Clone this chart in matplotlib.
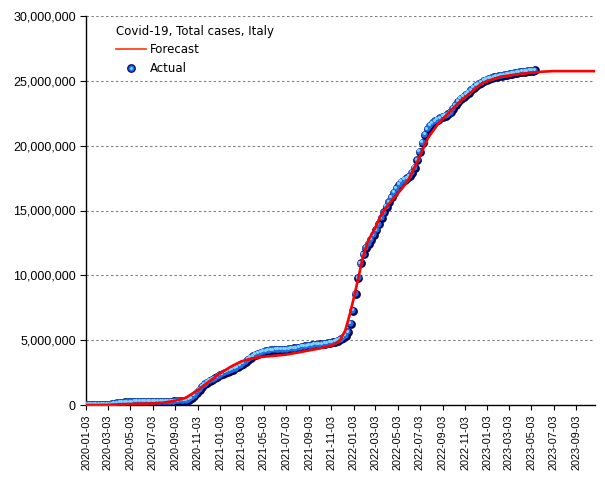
import matplotlib
matplotlib.use("Agg")
import matplotlib.pyplot as plt
import matplotlib.transforms as mtransforms
from matplotlib.lines import Line2D
from matplotlib.legend_handler import HandlerTuple
from matplotlib.ticker import FuncFormatter
import pandas as pd
import numpy as np

# ---------------- data ----------------
actual_start = "2020-01-05"   # weekly observations
actual_millions = [
    # 2020
    0, 0, 0, 0, 0, 0, 0.00015,
    0.0017, 0.0074, 0.0247, 0.0591, 0.0977,
    0.1289, 0.1564, 0.1790, 0.1977,
    0.2107, 0.2191, 0.2254, 0.2293, 0.2330,
    0.2350, 0.2370, 0.2385, 0.2401,
    0.2416, 0.2431, 0.2444, 0.2461,
    0.2482, 0.2506, 0.2542, 0.2593, 0.2682,
    0.2776, 0.2878, 0.2982, 0.3099,
    0.3253, 0.3550, 0.4142, 0.5258,
    0.7093, 0.9351, 1.1785, 1.4089, 1.5852,
    1.7289, 1.8557, 1.9641, 2.0477,
    # 2021
    2.155, 2.276, 2.381, 2.467, 2.553,
    2.637, 2.729, 2.819, 2.925,
    3.047, 3.192, 3.345, 3.489,
    3.629, 3.754, 3.857, 3.950,
    4.036, 4.107, 4.159, 4.188, 4.216,
    4.230, 4.244, 4.252, 4.258,
    4.265, 4.274, 4.294, 4.320,
    4.358, 4.393, 4.429, 4.478, 4.514,
    4.546, 4.574, 4.601, 4.626,
    4.653, 4.674, 4.694, 4.720, 4.745,
    4.780, 4.825, 4.888, 4.964,
    5.063, 5.179, 5.335, 5.618,
    # 2022
    6.266, 7.282, 8.549, 9.781, 10.925,
    11.617, 12.125, 12.441, 12.760,
    13.100, 13.480, 13.930, 14.400,
    14.850, 15.280, 15.650, 16.010,
    16.380, 16.700, 16.980, 17.200, 17.360,
    17.480, 17.640, 17.900, 18.290,
    18.880, 19.530, 20.240, 20.850, 21.260,
    21.540, 21.740, 21.880, 22.010,
    22.120, 22.210, 22.300, 22.410,
    22.560, 22.830, 23.130, 23.400, 23.600,
    23.760, 23.930, 24.100, 24.280,
    24.450, 24.600, 24.740, 24.860,
    # 2023
    24.990, 25.080, 25.150, 25.200, 25.260,
    25.300, 25.350, 25.400, 25.440,
    25.480, 25.520, 25.560, 25.600,
    25.630, 25.660, 25.690, 25.710, 25.740,
    25.760, 25.780, 25.800,
]

forecast_dates = [
    "2020-01-03", "2020-02-01", "2020-03-01", "2020-04-01", "2020-05-01",
    "2020-06-01", "2020-07-01", "2020-08-01", "2020-09-01", "2020-10-01",
    "2020-11-01", "2020-12-01", "2021-01-01", "2021-02-01", "2021-03-01",
    "2021-04-01", "2021-05-01", "2021-06-01", "2021-07-01", "2021-08-10",
    "2021-10-03", "2021-11-09", "2021-11-27", "2021-12-11", "2021-12-24",
    "2022-01-07", "2022-01-18", "2022-01-28", "2022-02-12", "2022-03-02",
    "2022-03-16", "2022-04-03", "2022-04-24", "2022-05-15", "2022-06-01",
    "2022-06-28", "2022-07-25", "2022-08-22", "2022-09-18", "2022-10-16",
    "2022-11-21", "2022-12-19", "2023-01-20", "2023-02-10", "2023-04-05",
    "2023-05-31", "2023-07-01", "2023-10-24",
]
forecast_millions = [
    0.0, 0.0, 0.01, 0.05, 0.08,
    0.10, 0.12, 0.18, 0.32, 0.55,
    1.10, 1.75, 2.40, 2.95, 3.35,
    3.60, 3.72, 3.80, 3.88, 4.08,
    4.37, 4.63, 5.00, 5.75, 7.05,
    8.70, 10.10, 11.40, 12.70, 13.60,
    14.50, 15.30, 16.00, 16.70, 17.35,
    18.90, 20.60, 21.70, 22.50, 23.30,
    24.15, 24.80, 25.15, 25.33, 25.54,
    25.70, 25.75, 25.75,
]

tick_labels = ["2020-01-03", "2020-03-03", "2020-05-03", "2020-07-03", "2020-09-03",
               "2020-11-03", "2021-01-03", "2021-03-03", "2021-05-03", "2021-07-03",
               "2021-09-03", "2021-11-03", "2022-01-03", "2022-03-03", "2022-05-03",
               "2022-07-03", "2022-09-03", "2022-11-03", "2023-01-03", "2023-03-03",
               "2023-05-03", "2023-07-03", "2023-09-03"]

title = "Covid-19, Total cases, Italy"
x_min, x_max = "2020-01-03", "2023-10-24"

# ---------------- plot ----------------
plt.rcParams['font.family'] = ['DejaVu Sans']
fig = plt.figure(figsize=(6.05, 4.8), dpi=100)
ax = fig.add_axes([86 / 605, 1 - 405 / 480, (595 - 86) / 605, 389 / 480])

act_dates = pd.date_range(actual_start, periods=len(actual_millions), freq="7D")
act_vals = np.array(actual_millions) * 1e6
fc_dates = pd.to_datetime(forecast_dates)
fc_vals = np.array(forecast_millions) * 1e6

# sphere-like markers: dark base, blue body, cyan highlight
ax.scatter(act_dates, act_vals, s=40, color="#00005a", zorder=3, linewidths=0)
tr_body = mtransforms.offset_copy(ax.transData, fig=fig, x=-0.6, y=0.6, units='points')
ax.scatter(act_dates, act_vals, s=21, color="#1f6fe0", zorder=4, linewidths=0,
           transform=tr_body)
tr_hi = mtransforms.offset_copy(ax.transData, fig=fig, x=-1.1, y=1.1, units='points')
ax.scatter(act_dates, act_vals, s=5, color="#7fd4ff", zorder=5, linewidths=0,
           transform=tr_hi)

ax.plot(fc_dates, fc_vals, color="#ff0000", lw=1.9, zorder=6)

ax.set_xlim(pd.Timestamp(x_min), pd.Timestamp(x_max))
ax.set_ylim(0, 30e6)
ax.set_yticks(np.arange(0, 30e6 + 1, 5e6))
ax.yaxis.set_major_formatter(FuncFormatter(lambda v, p: f"{int(v):,}"))
ax.set_xticks(pd.to_datetime(tick_labels))
ax.set_xticklabels(tick_labels, rotation=90, fontsize=7.8, family=['Liberation Sans'])
for lab in ax.get_yticklabels():
    lab.set_family(['Liberation Sans'])
ax.tick_params(axis='y', labelsize=9, length=4.3, direction='out', pad=3)
ax.tick_params(axis='x', length=3.6, direction='out', pad=3.5)

for s in ["top", "right"]:
    ax.spines[s].set_visible(False)
for s in ["left", "bottom"]:
    ax.spines[s].set_linewidth(1.0)
    ax.spines[s].set_color("black")

ax.grid(axis='y', color="#808080", linestyle=(0, (2.2, 2.2)), linewidth=0.8)
ax.set_axisbelow(True)

h_fc = Line2D([], [], color="#ff3300", lw=1.2)
h_a1 = Line2D([], [], ls='', marker='o', ms=6.3, color="#00005a", mew=0)
h_a2 = Line2D([], [], ls='', marker='o', ms=4.6, color="#1f6fe0", mew=0)
h_a3 = Line2D([], [], ls='', marker='o', ms=2.0, color="#7fd4ff", mew=0)
leg = ax.legend([h_fc, (h_a1, h_a2, h_a3)], ["Forecast", "Actual"],
                handler_map={tuple: HandlerTuple(ndivide=1, pad=0)},
                title=title, loc='upper left', bbox_to_anchor=(0.045, 0.995),
                frameon=False, fontsize=8.5, title_fontsize=8.5, handlelength=2.5,
                handletextpad=0.4, labelspacing=0.45, alignment='left',
                borderaxespad=0.2)
leg.set_zorder(10)

fig.savefig("out.png", dpi=100, facecolor="white")
